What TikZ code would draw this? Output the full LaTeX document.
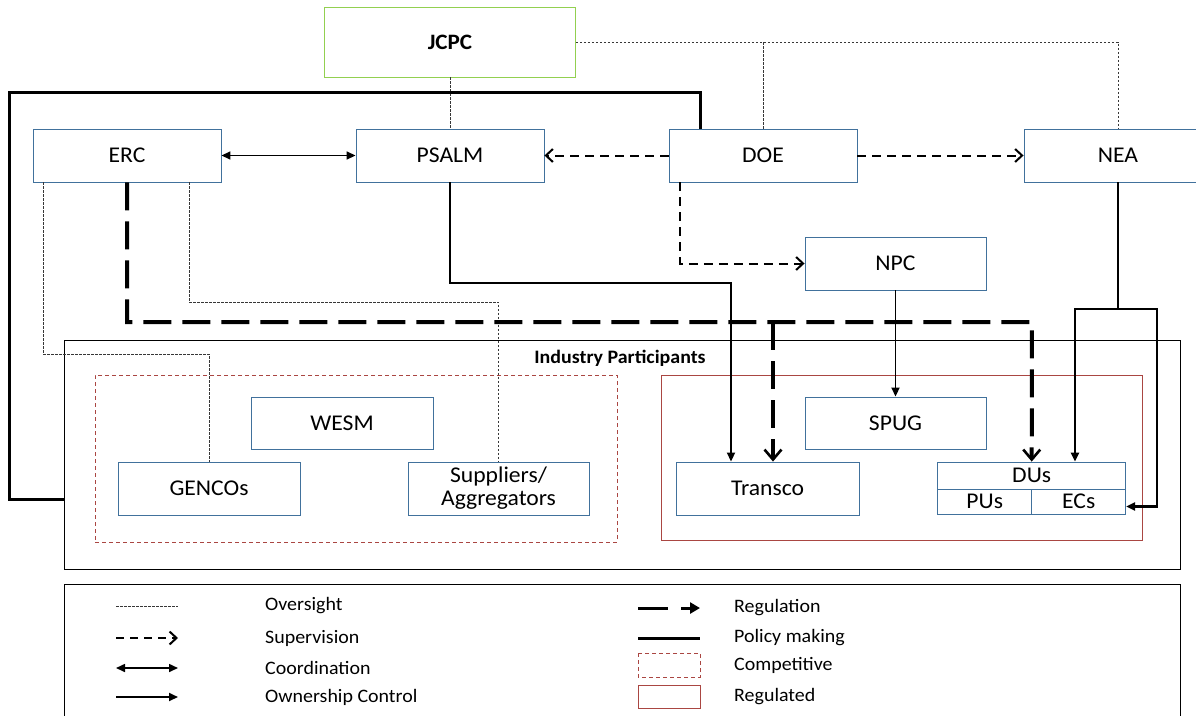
\documentclass[tikz,border=0pt]{standalone}
\usepackage{fontspec}
\setmainfont{Carlito}[FakeStretch=1.05]
\usetikzlibrary{arrows.meta,calc}
\definecolor{orgblue}{RGB}{65,113,156}
\definecolor{jcpcgreen}{RGB}{146,208,80}
\definecolor{mktred}{RGB}{170,70,66}
\definecolor{ovgray}{RGB}{55,55,55}
\begin{document}
\begin{tikzpicture}[x=1pt,y=-1pt,
    org/.style={draw=orgblue,line width=0.9pt,minimum width=188pt,minimum height=53pt,
      inner sep=0pt,font=\fontsize{22.5}{23}\selectfont,align=center},
    jcpcbox/.style={org,draw=jcpcgreen,minimum width=251pt,minimum height=70pt,
      font=\fontsize{22}{23}\selectfont\bfseries},
    grp/.style={draw,line width=0.8pt,inner sep=0pt},
    legtext/.style={anchor=west,inner sep=0pt,font=\fontsize{19}{21}\selectfont},
    oversight/.style={draw=ovgray,line width=0.9pt,dash pattern=on 2.5pt off 1.5pt},
    supervision/.style={line width=2pt,dash pattern=on 9pt off 6pt,
      -{Straight Barb[length=7pt,width=13pt,line width=2pt]}},
    coordination/.style={line width=1.6pt,
      {Triangle[length=9pt,width=8pt]}-{Triangle[length=9pt,width=8pt]}},
    ownership/.style={line width=1.8pt,-{Triangle[length=9pt,width=8pt]}},
    nealine/.style={line width=2.6pt},
    regulation/.style={line width=4pt,dash pattern=on 28pt off 11pt,
      -{Straight Barb[length=10pt,width=17pt,line width=2.6pt]}},
    policy/.style={line width=3pt}]
  \useasboundingbox (0,0) rectangle (1196,715);

  % groups
  \node[grp,minimum width=1116pt,minimum height=229pt] (industry) at (622,454.5) {};
  \node[font=\fontsize{19}{21}\selectfont\bfseries,inner sep=0pt] (indlabel) at (620,358) {Industry Participants};
  \node[grp,draw=mktred,dashed,dash pattern=on 4pt off 3pt,minimum width=522pt,minimum height=167pt] (comp) at (356,458.5) {};
  \node[grp,draw=mktred,minimum width=481pt,minimum height=165pt] (regd) at (901.5,457.5) {};
  \node[grp,minimum width=1116pt,minimum height=141pt] (legend) at (622,654.5) {};

  % agencies
  \node[jcpcbox] (jcpc) at (450,42) {JCPC};
  \node[org] (erc) at (127,155.5) {ERC};
  \node[org] (psalm) at (450,155.5) {PSALM};
  \node[org] (doe) at (763,155.5) {DOE};
  \node[org] (nea) at (1118,155.5) {NEA};
  \node[org,minimum width=181pt] (npc) at (895.5,263.5) {NPC};

  % industry participants
  \node[org,minimum width=182pt,minimum height=52pt] (wesm) at (342,423) {WESM};
  \node[org,minimum width=182pt] (gencos) at (209,488.5) {GENCOs};
  \node[org,minimum width=181pt] (supp) at (498.5,488.5) {Suppliers/\\Aggregators};
  \node[org,minimum width=181pt,minimum height=52pt] (spug) at (895.5,423) {SPUG};
  \node[org,minimum width=183pt] (transco) at (767.5,488.5) {Transco};
  \node[org,minimum height=27pt] (dus) at (1031.7,475.5) {DUs};
  \node[org,minimum width=94pt,minimum height=25pt] (pus) at (984.7,501.5) {PUs};
  \node[org,minimum width=94pt,minimum height=25pt] (ecs) at (1078.7,501.5) {ECs};

  % oversight
  \coordinate (ovA) at (43,354);
  \coordinate (ovB) at (189,302);
  \draw[oversight] (jcpc) -- (psalm);
  \draw[oversight] (jcpc.east) -| (nea.north);
  \draw[oversight] (doe.north) -- (doe.north |- jcpc.east);
  \draw[oversight] (erc.south -| ovA) -- (ovA) -| (gencos.north);
  \draw[oversight] (erc.south -| ovB) -- (ovB) -| (supp.north);

  % coordination and supervision
  \coordinate (supA) at (680,263.5);
  \draw[coordination] (erc) -- (psalm);
  \draw[supervision] (doe) -- (psalm);
  \draw[supervision] (doe) -- (nea);
  \draw[supervision] (doe.south -| supA) |- (npc.west);

  % policy making
  \coordinate (polA) at (9,92);
  \coordinate (polB) at (9,499);
  \coordinate (polC) at (700,92);
  \draw[policy] (doe.north -| polC) -- (polC) -- (polA) -- (polB) -- (polB -| industry.west);

  % ownership control
  \coordinate (psA) at (731,283);
  \coordinate (neaJ) at (1118,309);
  \coordinate (neaL) at (1075,309);
  \coordinate (neaR) at (1157,309);
  \draw[ownership] (psalm.south) |- (psA) -- (psA |- transco.north);
  \draw[ownership] (npc) -- (spug);
  \draw[nealine] (nea.south) -- (neaJ);
  \draw[nealine,-{Triangle[length=9pt,width=8pt]}] (neaJ) -- (neaL) -- (neaL |- dus.north);
  \draw[nealine,-{Triangle[length=9pt,width=8pt]}] (neaJ) -- (neaR) |- ([yshift=-5pt]ecs.east);

  % regulation
  \coordinate (regA) at (127,322);
  \coordinate (regB) at (1032,322);
  \coordinate (regT) at (773,322);
  \draw[regulation] (erc.south) -- (regA) -- (regB) -- (dus.north);
  \draw[regulation] (regT) -- (regT |- transco.north);

  % legend
  \node[legtext] (lov) at (265,606) {Oversight};
  \node[legtext] (lsup) at (265,638) {Supervision};
  \node[legtext] (lco) at (265,668) {Coordination};
  \node[legtext] (low) at (265,697) {Ownership Control};
  \node[legtext] (lreg) at (734,608) {Regulation};
  \node[legtext] (lpol) at (734,638) {Policy making};
  \node[legtext] (lcomp) at (734,665) {Competitive};
  \node[legtext] (lregd) at (734,697) {Regulated};
  \draw[oversight] ([xshift=-149pt]lov.west) -- ([xshift=-87pt]lov.west);
  \draw[supervision,dash pattern=on 8pt off 6pt] ([xshift=-149pt]lsup.west) -- ([xshift=-87pt]lsup.west);
  \draw[coordination] ([xshift=-149pt]lco.west) -- ([xshift=-87pt]lco.west);
  \draw[ownership] ([xshift=-149pt]low.west) -- ([xshift=-87pt]low.west);
  \draw[line width=3pt,dash pattern=on 30pt off 13pt,-{Triangle[length=10pt,width=11pt]}]
    ([xshift=-96pt]lreg.west) -- ([xshift=-34pt]lreg.west);
  \draw[policy] ([xshift=-96pt]lpol.west) -- ([xshift=-34pt]lpol.west);
  \draw[draw=mktred,line width=0.8pt,dash pattern=on 4pt off 3pt]
    ([xshift=-96pt,yshift=12pt]lcomp.west) rectangle ([xshift=-34pt,yshift=-12pt]lcomp.west);
  \draw[draw=mktred,line width=0.8pt]
    ([xshift=-96pt,yshift=11.5pt]lregd.west) rectangle ([xshift=-34pt,yshift=-11.5pt]lregd.west);
\end{tikzpicture}
\end{document}
